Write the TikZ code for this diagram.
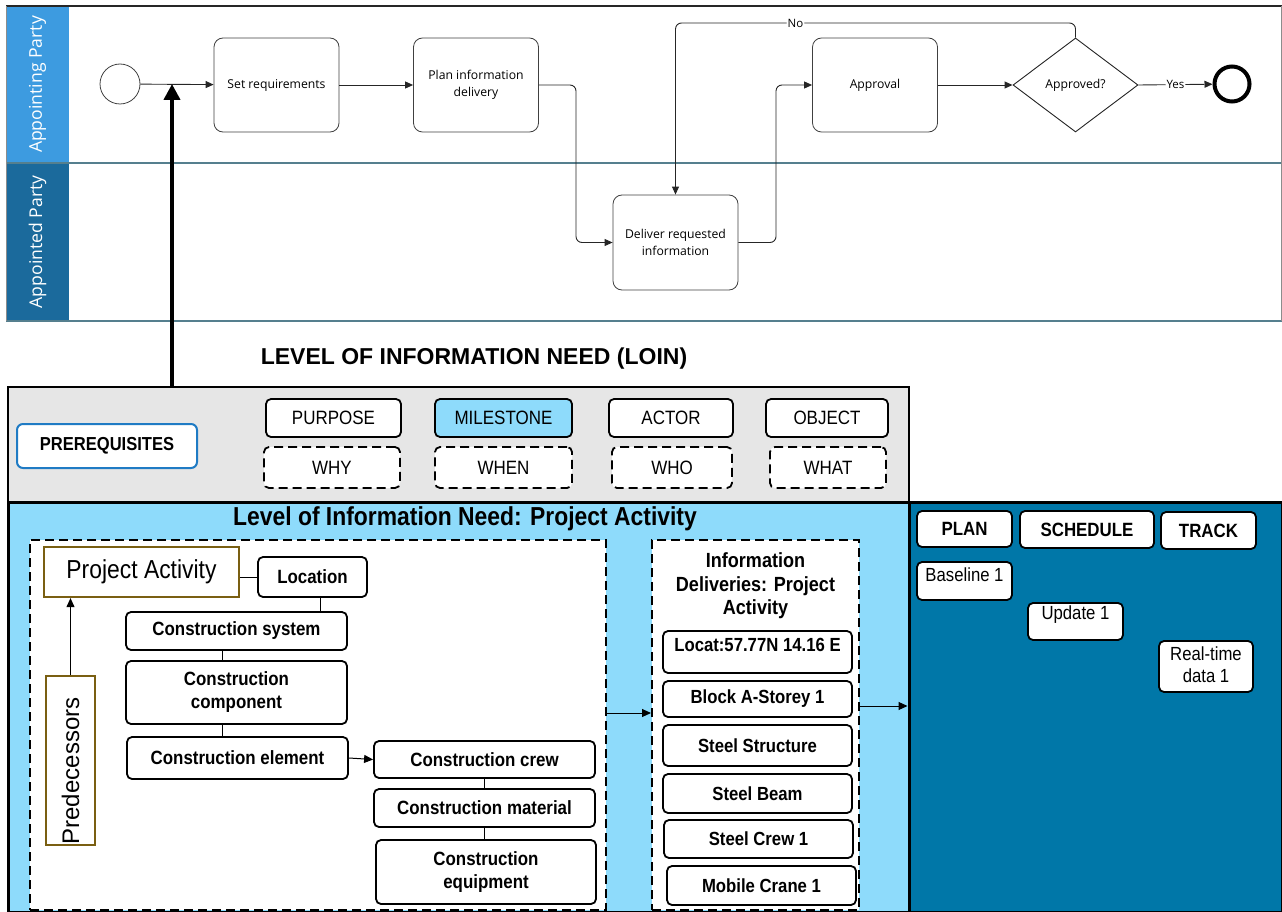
\documentclass[tikz,border=0pt]{standalone}
\usepackage{fontspec}
\setmainfont{Liberation Sans}
\newfontfamily\osans{Open Sans}
\newfontfamily\nar[FakeStretch=0.88]{Liberation Sans}
\usetikzlibrary{shapes.geometric,arrows.meta}
\definecolor{hdrA}{HTML}{3D9BE0}
\definecolor{hdrB}{HTML}{1B6A9C}
\definecolor{laneline}{HTML}{557F8E}
\definecolor{lightpanel}{HTML}{8EDBFB}
\definecolor{darkpanel}{HTML}{0077A8}
\definecolor{olive}{HTML}{7A5F12}
\definecolor{prereq}{HTML}{1F7BC4}
\definecolor{loingray}{HTML}{E6E6E6}
\begin{document}
\begin{tikzpicture}[x=1pt,y=-1pt,
 task/.style={draw=black!75, line width=0.8pt, rounded corners=9pt, fill=white, inner sep=0pt, align=center, font=\osans\fontsize{12.2}{17}\selectfont, minimum width=125pt, minimum height=94pt},
 flow/.style={draw=black!85, line width=0.9pt, rounded corners=6pt, -{Triangle[width=7pt,length=8pt]}},
 lbl/.style={fill=white, inner sep=1pt, font=\osans\fontsize{11.5}{13}\selectfont},
 lanehdr/.style={rotate=90, inner sep=0, text=white, font=\osans\fontsize{17.6}{21}\selectfont, minimum height=63pt},
 capbox/.style={draw=black, line width=1.8pt, rounded corners=5pt, fill=white, inner sep=0, font=\nar\fontsize{19.3}{22}\selectfont},
 qbox/.style={capbox, dash pattern=on 9pt off 5pt},
 bbox/.style={draw=black, line width=1.8pt, rounded corners=5pt, fill=white, inner sep=0, align=center, font=\nar\bfseries\fontsize{19.2}{23}\selectfont},
 ibox/.style={bbox, minimum width=189pt, font=\nar\bfseries\fontsize{19}{22}\selectfont},
 rtext/.style={inner sep=0, align=center, font=\nar\fontsize{19}{22}\selectfont},
 dashpanel/.style={draw=black, line width=2pt, dash pattern=on 9pt off 5pt, fill=white, inner sep=0},
 link/.style={draw=black, line width=0.8pt},
 arr/.style={draw=black, line width=1pt, -{Triangle[width=8pt,length=9pt]}},
 oliv/.style={draw=olive, line width=2.2pt, fill=white, inner sep=0}
]
\useasboundingbox (0,0) rectangle (1282,912);

% ---------------- swimlanes ----------------
\node[lanehdr, fill=hdrA, minimum width=157pt] (hdrA) at (37.5,84.5) {Appointing Party};
\node[lanehdr, fill=hdrB, minimum width=158pt] (hdrB) at (37.5,242) {Appointed Party};
\draw[black!85, line width=2.5pt] (6,6) -- (1282,6);
\draw[laneline, line width=1.5pt] (6,163) -- (1282,163);
\draw[laneline, line width=1.5pt] (6,321) -- (1282,321);
\draw[black!45, line width=0.6pt] (1281,6) -- (1281,321);
\draw[black!45, line width=0.6pt] (6,6) -- (6,321);

\node[circle, draw=black!75, line width=0.8pt, minimum size=40pt, inner sep=0] (start) at (120,84) {};
\node[task] (setreq) at (276.5,85) {Set requirements};
\node[task] (plan) at (476,85) {Plan information\\delivery};
\node[task] (approval) at (875,85) {Approval};
\node[diamond, draw=black!85, line width=0.9pt, fill=white, inner sep=0, minimum width=125pt, minimum height=94pt, font=\osans\fontsize{12.2}{17}\selectfont] (dec) at (1075.5,85) {Approved?};
\node[circle, draw=black, line width=4pt, minimum size=35pt, inner sep=0] (end) at (1232,84) {};
\node[task, minimum height=95pt] (deliver) at (675.5,242.5) {Deliver requested\\information};

\coordinate (join) at (172,84);
\draw[flow] (start) -- (setreq);
\draw[flow] (setreq) -- (plan);
\draw[flow] (plan.east) -- (576,85) -- (576,242.5) -- (deliver.west);
\draw[flow] (deliver.east) -- (776,242.5) -- (776,85) -- (approval.west);
\draw[flow] (approval) -- (dec);
\draw[flow] (dec.east) -- node[lbl] {Yes} (end);
\draw[flow] (dec.north) -- (1075.5,23) -- node[lbl, pos=0.7] {No} (675.5,23) -- (deliver.north);

% ---------------- LOIN ----------------
\node[font=\bfseries\fontsize{23}{27}\selectfont] (title) at (474,359) {LEVEL OF INFORMATION NEED (LOIN)};
\node[draw=black, line width=2pt, fill=loingray, minimum width=901pt, minimum height=115pt, inner sep=0] (loin) at (458.5,444.5) {};
\draw[line width=4pt, -{Triangle[width=16pt,length=16pt]}] (loin.north -| join) -- (join);

\node[draw=prereq, line width=2pt, rounded corners=6pt, fill=white, minimum width=180pt, minimum height=44pt, inner sep=0, font=\nar\bfseries\fontsize{18.8}{21}\selectfont] (prq) at (107,446) {PREREQUISITES};
\node[capbox, minimum width=135pt, minimum height=38pt] (purpose) at (333.5,418) {PURPOSE};
\node[qbox, minimum width=136pt, minimum height=41pt] (why) at (332,467.5) {WHY};
\node[capbox, fill=lightpanel, minimum width=137pt, minimum height=38pt] (milestone) at (503.5,418) {MILESTONE};
\node[qbox, minimum width=137pt, minimum height=41pt] (when) at (503.5,467.5) {WHEN};
\node[capbox, minimum width=124pt, minimum height=38pt] (actor) at (671,418) {ACTOR};
\node[qbox, minimum width=120pt, minimum height=41pt] (who) at (672,467.5) {WHO};
\node[capbox, minimum width=122pt, minimum height=38pt] (object) at (827,418) {OBJECT};
\node[qbox, minimum width=116pt, minimum height=41pt] (what) at (828,467.5) {WHAT};

% ---------------- panels ----------------
\node[draw=black, line width=3pt, fill=lightpanel, minimum width=901pt, minimum height=410pt, inner sep=0] (lightp) at (458.5,707) {};
\node[draw=black, line width=3pt, fill=darkpanel, minimum width=373pt, minimum height=410pt, inner sep=0] (darkp) at (1095.5,707) {};
\node[font=\nar\bfseries\fontsize{26}{30}\selectfont] (t2) at (465,519) {Level of Information Need: Project Activity};

% left dashed area
\node[dashpanel, minimum width=576pt, minimum height=370pt] (leftdash) at (318,725) {};
\node[oliv, minimum width=195pt, minimum height=50pt, font=\nar\fontsize{26}{30}\selectfont] (pa) at (141.5,572) {Project Activity};
\node[bbox, minimum width=109pt, minimum height=40pt] (loc) at (312.5,577) {Location};
\node[bbox, minimum width=221pt, minimum height=38pt] (consys) at (236.5,631) {Construction system};
\node[bbox, minimum width=221pt, minimum height=63pt] (concomp) at (236.5,692.5) {Construction\\component};
\node[bbox, minimum width=221pt, minimum height=42pt] (conelem) at (237.5,758) {Construction element};
\node[oliv, rotate=90, minimum width=169pt, minimum height=49pt] (pred) at (70.5,760.5) {};
\node[rotate=90, inner sep=0, font=\fontsize{24}{28}\selectfont] (predt) at (70.5,771) {Predecessors};
\node[bbox, minimum width=221pt, minimum height=37pt] (crew) at (484.5,759.5) {Construction crew};
\node[bbox, minimum width=221pt, minimum height=38pt] (material) at (484.5,808) {Construction material};
\node[bbox, minimum width=220pt, minimum height=64pt] (equip) at (486,872) {Construction\\equipment};

\draw[link] (loc.west) -- (loc.west -| pa.east);
\draw[link] ([xshift=8pt]loc.south) -- ([xshift=8pt]loc.south |- consys.north);
\draw[link] ([xshift=-14pt]consys.south) -- ([xshift=-14pt]consys.south |- concomp.north);
\draw[link] ([xshift=-14pt]concomp.south) -- ([xshift=-14pt]concomp.south |- conelem.north);
\draw[arr] (conelem.east) -- (crew.west);
\draw[link] (crew.south) -- (material.north);
\draw[link] (material.south) -- (material.south |- equip.north);
\draw[arr] (pred.east) -- (pred.east |- pa.south);

% information deliveries
\node[dashpanel, minimum width=207pt, minimum height=370pt] (info) at (755.5,725) {};
\node[font=\nar\bfseries\fontsize{20.5}{23.5}\selectfont, align=center] (infot) at (755.5,586) {Information\\Deliveries: Project\\Activity};
\node[ibox, minimum height=42pt] (d1) at (757.5,652) {};
\node[inner sep=0, font=\nar\bfseries\fontsize{19}{22}\selectfont] (d1t) at ([yshift=-15pt]d1.north) {Locat:57.77N 14.16 E};
\node[ibox, minimum height=36pt] (d2) at (757.5,699) {Block A-Storey 1};
\node[ibox, minimum height=41pt] (d3) at (757.5,745.5) {Steel Structure};
\node[ibox, minimum height=39pt] (d4) at (757.5,793.5) {Steel Beam};
\node[ibox, minimum height=38pt] (d5) at (758.5,839) {Steel Crew 1};
\node[ibox, minimum height=39pt] (d6) at (761.5,885.5) {Mobile Crane 1};

\draw[arr] ([yshift=12pt]leftdash.east) -- ([yshift=12pt]leftdash.east -| info.west);
\draw[arr] ([yshift=19pt]info.east) -- ([yshift=19pt]info.east -| darkp.west);

% right panel
\node[bbox, minimum width=95pt, minimum height=36pt] (planb) at (964.5,529) {PLAN};
\node[bbox, minimum width=134pt, minimum height=37pt] (sched) at (1087,529.5) {SCHEDULE};
\node[bbox, minimum width=95pt, minimum height=37pt] (track) at (1208.5,530.5) {TRACK};
\node[bbox, minimum width=95pt, minimum height=38pt] (base) at (964.5,581) {};
\node[rtext] (baset) at (964.5,575) {Baseline 1};
\node[bbox, minimum width=95pt, minimum height=37pt] (upd) at (1075.5,621.5) {};
\node[rtext] (updt) at (1075.5,615) {Update 1};
\node[bbox, minimum width=94pt, minimum height=51pt] (rt) at (1206,666.5) {};
\node[rtext] (rtt) at (1206,665) {Real-time\\data 1};
\end{tikzpicture}
\end{document}
